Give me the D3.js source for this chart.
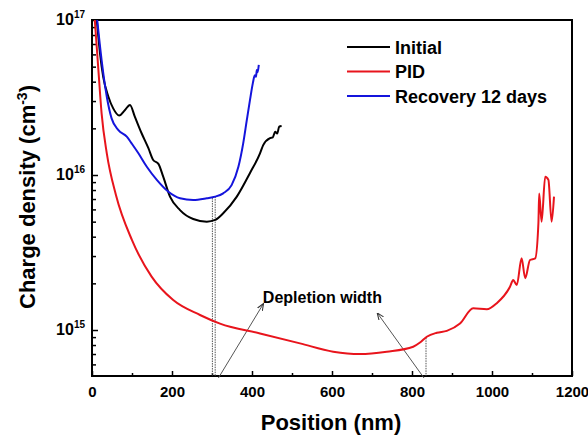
<!DOCTYPE html>
<html>
<head>
<meta charset="utf-8">
<script src="https://cdn.jsdelivr.net/npm/d3@7"></script>
<style>
  body { margin: 0; background: #fff; }
  svg { display: block; font-family: "Liberation Sans", Arial, sans-serif; font-weight: bold; }
</style>
</head>
<body>
<svg width="588" height="437"></svg>
<script>
const width = 588;
const height = 437;

// data (position in nm, charge density in cm^-3)
const initialPos = [12, 20, 28, 41, 53, 68, 82, 95, 107, 124, 141, 153, 166, 178, 195, 220, 253, 287, 308, 328, 362, 395, 420, 428, 445, 452, 458, 463, 468, 474];
const initialVal = [1.0e17, 6.1e16, 4.3e16, 3.2e16, 2.69e16, 2.42e16, 2.62e16, 2.83e16, 2.38e16, 1.86e16, 1.49e16, 1.25e16, 1.18e16, 9.75e15, 7.25e15, 5.94e15, 5.2e15, 5.0e15, 5.13e15, 5.66e15, 7.25e15, 1.03e16, 1.38e16, 1.56e16, 1.73e16, 1.75e16, 1.9e16, 1.85e16, 2.05e16, 2.07e16];

const pidPos = [7, 16, 24, 37, 60, 100, 149, 203, 270, 320, 420, 520, 603, 670, 737, 803, 820, 837, 862, 887, 920, 953, 987, 1012, 1045, 1053, 1062, 1074, 1083, 1095, 1108, 1116, 1118, 1124, 1133, 1141, 1149, 1155];
const pidVal = [1.0e17, 4.75e16, 2.5e16, 1.38e16, 7.4e15, 3.8e15, 2.21e15, 1.56e15, 1.25e15, 1.1e15, 9.5e14, 8.2e14, 7.25e14, 7.0e14, 7.25e14, 7.8e14, 8.3e14, 9.05e14, 9.6e14, 9.87e14, 1.1e15, 1.38e15, 1.36e15, 1.49e15, 1.9e15, 2.1e15, 1.95e15, 2.9e15, 2.16e15, 2.83e15, 2.9e15, 4.88e15, 7.6e15, 5.0e15, 9.75e15, 9.3e15, 5.0e15, 7.25e15];

const recoveryPos = [13, 24, 37, 49, 66, 87, 99, 116, 137, 162, 191, 220, 253, 287, 308, 328, 349, 366, 378, 387, 395, 402, 407, 410, 412, 414, 417];
const recoveryVal = [1.0e17, 5.52e16, 3.2e16, 2.32e16, 1.95e16, 1.77e16, 1.6e16, 1.38e16, 1.13e16, 9.3e15, 7.8e15, 7.08e15, 6.9e15, 7.08e15, 7.25e15, 7.62e15, 8.6e15, 1.13e16, 1.6e16, 2.26e16, 3.05e16, 3.9e16, 4.4e16, 4.3e16, 4.75e16, 4.6e16, 5.13e16];

const seriesNames = ["Initial", "PID", "Recovery 12 days"];
const seriesColors = ["#000000", "#e8141c", "#1414dc"];

const xTicks = [0, 200, 400, 600, 800, 1000, 1200];
const xMinorTicks = [100, 300, 500, 700, 900, 1100];
const yTicks = [1e15, 1e16, 1e17];
const yTickExp = ["15", "16", "17"];

// depletion width markers
const depletionX = [301, 308, 835];
const depletionTop = [7.1e15, 7.25e15, 8.9e14];
const arrowFrom = [[316, 4.9e14], [830, 4.9e14]];
const arrowTo = [[428, 1.47e15], [714, 1.28e15]];
const noteText = "Depletion width";

//--------------------scales--------------------
const mLeft = 92, mRight = 572, mTop = 20, mBottom = 376;

const svg = d3.select("svg");

const x = d3.scaleLinear()
    .domain([0, 1200])
    .range([mLeft, mRight]);

const y = d3.scaleLog()
    .domain([5.05e14, 1e17])
    .range([mBottom, mTop]);

const defs = svg.append("defs");
defs.append("clipPath")
    .attr("id", "plot")
    .append("rect")
    .attr("x", mLeft)
    .attr("y", mTop)
    .attr("width", mRight - mLeft)
    .attr("height", mBottom - mTop);

defs.append("marker")
    .attr("id", "head")
    .attr("viewBox", "0 0 10 10")
    .attr("refX", 9)
    .attr("refY", 5)
    .attr("markerWidth", 7)
    .attr("markerHeight", 7)
    .attr("orient", "auto")
    .append("path")
    .attr("d", "M0,1 L10,5 L0,9")
    .attr("fill", "none")
    .attr("stroke", "#333")
    .attr("stroke-width", 1.5);

//--------------------axes--------------------
svg.append("g")
    .attr("transform", "translate(0," + mBottom + ")")
    .call(d3.axisBottom(x).tickValues(xTicks).tickSize(-5).tickPadding(10).tickFormat(d3.format("d")))
    .call(g => g.select(".domain").remove())
    .call(g => g.selectAll("text").attr("font-size", 15).attr("font-weight", "bold").attr("fill", "#000").attr("font-family", "Liberation Sans, Arial, sans-serif"))
    .call(g => g.selectAll("line").attr("stroke-width", 1.5));

svg.append("g")
    .attr("transform", "translate(0," + mBottom + ")")
    .call(d3.axisBottom(x).tickValues(xMinorTicks).tickSize(-3).tickFormat(""))
    .call(g => g.select(".domain").remove())
    .call(g => g.selectAll("line").attr("stroke-width", 1.5));

var yMinor = [];
[1e14, 1e15, 1e16].forEach(base => {
    for (var k = 2; k <= 9; k++) {
        var v = k * base;
        if (v >= 5.05e14 && v <= 1e17) yMinor.push(v);
    }
});

svg.append("g")
    .attr("transform", "translate(" + mLeft + ",0)")
    .call(d3.axisLeft(y).tickValues(yTicks).tickSize(-6).tickFormat(""))
    .call(g => g.select(".domain").remove())
    .call(g => g.selectAll("line").attr("stroke-width", 1.5));

svg.append("g")
    .attr("transform", "translate(" + mLeft + ",0)")
    .call(d3.axisLeft(y).tickValues(yMinor).tickSize(-4).tickFormat(""))
    .call(g => g.select(".domain").remove())
    .call(g => g.selectAll("line").attr("stroke-width", 1.5));

// y tick labels with superscript
yTicks.forEach((t, i) => {
    var lab = svg.append("text")
        .attr("x", 85)
        .attr("y", y(t) + 5)
        .attr("text-anchor", "end")
        .attr("font-size", 16);
    lab.append("tspan").text("10");
    lab.append("tspan")
        .attr("font-size", 10)
        .attr("dy", -7)
        .text(yTickExp[i]);
});

// frame
svg.append("rect")
    .attr("x", mLeft)
    .attr("y", mTop)
    .attr("width", mRight - mLeft)
    .attr("height", mBottom - mTop)
    .attr("fill", "none")
    .attr("stroke", "black")
    .attr("stroke-width", 2);

// axis titles
svg.append("text")
    .attr("x", 331)
    .attr("y", 430)
    .attr("text-anchor", "middle")
    .attr("font-size", 22)
    .text("Position (nm)");

var yt = svg.append("text")
    .attr("transform", "translate(35,197) rotate(-90)")
    .attr("text-anchor", "middle")
    .attr("font-size", 22);
yt.append("tspan").text("Charge density (cm");
yt.append("tspan").attr("font-size", 14).attr("dy", -8).text("-3");
yt.append("tspan").attr("dy", 8).text(")");

//--------------------annotation--------------------
depletionX.forEach((d, i) => {
    svg.append("line")
        .attr("x1", x(d))
        .attr("x2", x(d))
        .attr("y1", y(depletionTop[i]))
        .attr("y2", mBottom)
        .attr("stroke", "#555")
        .attr("stroke-width", 1)
        .attr("stroke-dasharray", "1.5,1");
});

arrowFrom.forEach((a, i) => {
    svg.append("line")
        .attr("x1", x(a[0]))
        .attr("y1", y(a[1]))
        .attr("x2", x(arrowTo[i][0]))
        .attr("y2", y(arrowTo[i][1]))
        .attr("stroke", "#555")
        .attr("stroke-width", 1)
        .attr("marker-end", "url(#head)");
});

svg.append("text")
    .attr("x", x(576))
    .attr("y", 303)
    .attr("text-anchor", "middle")
    .attr("font-size", 16)
    .text(noteText);

//--------------------curves--------------------
const line = d3.line()
    .x(d => x(d[0]))
    .y(d => y(d[1]))
    .curve(d3.curveMonotoneX);

const series = [
    d3.zip(initialPos, initialVal),
    d3.zip(pidPos, pidVal),
    d3.zip(recoveryPos, recoveryVal)
];

const plot = svg.append("g").attr("clip-path", "url(#plot)");

series.forEach((s, i) => {
    plot.append("path")
        .datum(s)
        .attr("d", line)
        .attr("fill", "none")
        .attr("stroke", seriesColors[i])
        .attr("stroke-width", 2)
        .attr("stroke-linejoin", "round");
});

//--------------------legend--------------------
seriesNames.forEach((name, i) => {
    var ly = 47 + i * 24.5;
    svg.append("line")
        .attr("x1", 347)
        .attr("x2", 390)
        .attr("y1", ly)
        .attr("y2", ly)
        .attr("stroke", seriesColors[i])
        .attr("stroke-width", 2);
    svg.append("text")
        .attr("x", 395)
        .attr("y", ly + 6.5)
        .attr("font-size", 18)
        .text(name);
});
</script>
</body>
</html>
